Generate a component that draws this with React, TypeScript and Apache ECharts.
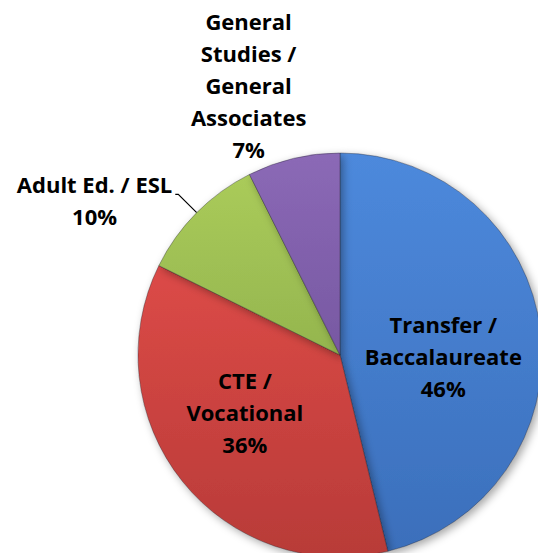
import React, { useEffect, useRef } from 'react';
import * as echarts from 'echarts';

const categories = [
  'Transfer /\nBaccalaureate',
  'CTE /\nVocational',
  'Adult Ed. / ESL',
  'General\nStudies /\nGeneral\nAssociates',
];
const shares = [46.2, 36.1, 10.3, 7.4];
const percentLabels = ['46%', '36%', '10%', '7%'];
const colorTop = ['#4d89dc', '#dc4a47', '#aacb5a', '#8b69b6'];
const colorBottom = ['#3b6fbb', '#b83b38', '#94b54e', '#7758a2'];

const FONT = 'Open Sans';
const FONT_SIZE = 22;

export default function App() {
  const ref = useRef<HTMLDivElement>(null);
  useEffect(() => {
    if (!ref.current) return;
    const chart = echarts.init(ref.current, undefined, { renderer: 'svg' });
    const labelShift: Record<number, { dx?: number; dy?: number }> = {
      0: { dx: 0, dy: 13 },
      1: { dx: -14, dy: -8 },
      3: { dx: 29, dy: -5 },
    };
    chart.setOption({
      animation: false,
      backgroundColor: '#ffffff',
      series: [
        {
          type: 'pie',
          center: [340, 355],
          radius: 202,
          startAngle: 90,
          clockwise: true,
          avoidLabelOverlap: false,
          silent: true,
          emphasis: { disabled: true },
          itemStyle: {
            borderColor: 'rgba(30,30,40,0.45)',
            borderWidth: 0.8,
            shadowBlur: 8,
            shadowOffsetX: 3,
            shadowOffsetY: 3,
            shadowColor: 'rgba(0,0,0,0.35)',
          },
          label: {
            show: true,
            position: 'inside',
            color: '#000',
            fontFamily: FONT,
            fontWeight: 'bold',
            fontSize: FONT_SIZE,
            formatter: (p: any) => {
              const lines = [...categories[p.dataIndex].split('\n'), percentLabels[p.dataIndex]];
              return lines.map((l) => `{c|${l}}`).join('\n');
            },
            rich: {
              c: {
                align: 'center',
                color: '#000',
                fontFamily: FONT,
                fontWeight: 'bold',
                fontSize: FONT_SIZE,
                lineHeight: 32,
              },
            },
          },
          labelLine: { show: false },
          labelLayout: (params: any) => labelShift[params.dataIndex] || {},
          data: categories.map((name, i) => {
            const item: any = {
              name,
              value: shares[i],
              itemStyle: {
                color: {
                  type: 'linear',
                  x: 0,
                  y: 0,
                  x2: 0,
                  y2: 1,
                  colorStops: [
                    { offset: 0, color: colorTop[i] },
                    { offset: 1, color: colorBottom[i] },
                  ],
                },
              },
            };
            if (i === 2) {
              item.label = { position: 'outside', distanceToLabelLine: 3, padding: [11, 0, 0, 0] };
              item.labelLine = {
                show: true,
                length: 26,
                length2: 3,
                lineStyle: { color: '#000', width: 1.2 },
              };
            }
            if (i === 3) {
              item.label = { position: 'outside', distanceToLabelLine: 0 };
              item.labelLine = { show: false, length: 70, length2: 0 };
            }
            return item;
          }),
        },
      ],
    });
    return () => chart.dispose();
  }, []);
  return (
    <div
      ref={ref}
      style={{ position: 'absolute', left: 0, top: 0, width: 538, height: 553 }}
    />
  );
}
